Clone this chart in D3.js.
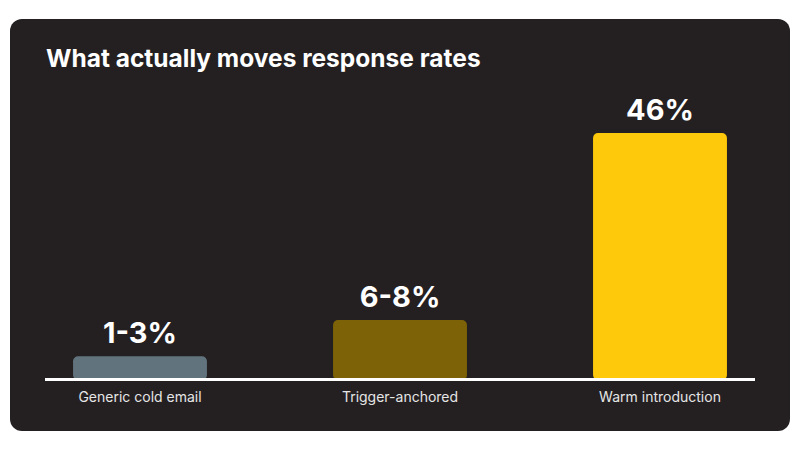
<!DOCTYPE html>
<html>
<head>
<meta charset="utf-8">
<script src="https://cdn.jsdelivr.net/npm/d3@7"></script>
<style>
  html, body { margin: 0; padding: 0; background: #ffffff; }
  svg { display: block; font-family: Inter, "Noto Sans", sans-serif; }
</style>
</head>
<body>
<div id="chart"></div>
<script>
const width = 800;
const height = 450;

// data
const categories = ["Generic cold email", "Trigger-anchored", "Warm introduction"];
const barValues = [4.1, 10.9, 46]; // drawn bar heights (percent)
const valueLabels = ["1-3%", "6-8%", "46%"];
const barColors = ["#61737d", "#7d6207", "#fec90a"];

const card = { x: 10, y: 19, w: 780, h: 412, r: 12 };
const baseY = 378;
const plotTop = 133;

const svg = d3
  .select("#chart")
  .append("svg")
  .attr("width", width)
  .attr("height", height);

// dark card
svg.append("rect")
  .attr("x", card.x)
  .attr("y", card.y)
  .attr("width", card.w)
  .attr("height", card.h)
  .attr("rx", card.r)
  .attr("fill", "#242021");

svg.append("text")
  .attr("x", 46)
  .attr("y", 67)
  .attr("fill", "#ffffff")
  .style("font-size", "24.5px")
  .style("font-weight", 700)
  .text("What actually moves response rates");

const x = d3.scaleBand()
  .domain(categories)
  .range([card.x, card.x + card.w])
  .paddingInner(0.485)
  .paddingOuter(0.2425);

const y = d3.scaleLinear()
  .domain([0, d3.max(barValues)])
  .range([baseY, plotTop]);

const bars = svg.append("g");

// rounded rect, its bottom corners tucked under the axis line
bars.selectAll("rect")
  .data(categories)
  .enter()
  .append("rect")
  .attr("x", d => x(d))
  .attr("y", (d, i) => y(barValues[i]))
  .attr("width", x.bandwidth())
  .attr("height", (d, i) => baseY + 2 - y(barValues[i]))
  .attr("rx", 5)
  .attr("fill", (d, i) => barColors[i]);

svg.selectAll(".value-label")
  .data(categories)
  .enter()
  .append("text")
  .attr("class", "value-label")
  .attr("x", d => x(d) + x.bandwidth() / 2)
  .attr("y", (d, i) => y(barValues[i]) - 13)
  .attr("text-anchor", "middle")
  .attr("fill", "#ffffff")
  .style("font-size", "29px")
  .style("font-weight", 700)
  .text((d, i) => valueLabels[i]);

// axis line
svg.append("line")
  .attr("x1", 45)
  .attr("x2", 755)
  .attr("y1", baseY + 1.5)
  .attr("y2", baseY + 1.5)
  .attr("stroke", "#ffffff")
  .attr("stroke-width", 3);

const xAxis = svg.append("g")
  .attr("transform", "translate(0," + (baseY + 3) + ")")
  .call(d3.axisBottom(x).tickSize(0).tickPadding(11));

xAxis.select(".domain").remove();
xAxis.selectAll("text")
  .attr("fill", "#e6e6e6")
  .style("font-size", "14px")
  .style("font-family", "Inter, 'Noto Sans', sans-serif");
</script>
</body>
</html>
